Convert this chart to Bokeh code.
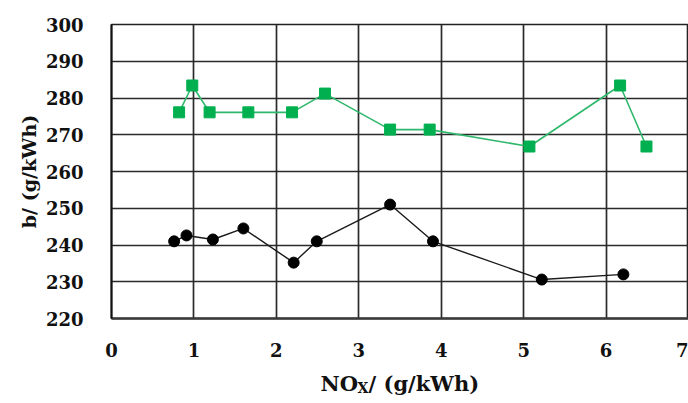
from bokeh.plotting import figure
from bokeh.layouts import column
from bokeh.models import Range1d, FixedTicker
from bokeh.core.properties import value
from bokeh.embed import file_html
from bokeh.resources import INLINE

# Series
green_x = [0.82, 0.98, 1.19, 1.66, 2.19, 2.59, 3.38, 3.86, 5.07, 6.17, 6.49]
green_y = [276.1, 283.4, 276.1, 276.1, 276.1, 281.2, 271.4, 271.4, 266.8, 283.4, 266.8]

black_x = [0.76, 0.91, 1.23, 1.60, 2.21, 2.49, 3.38, 3.90, 5.22, 6.21]
black_y = [241.0, 242.6, 241.5, 244.5, 235.2, 241.0, 251.0, 241.0, 230.6, 232.0]

x_ticks = [0, 1, 2, 3, 4, 5, 6, 7]
y_ticks = [220, 230, 240, 250, 260, 270, 280, 290, 300]

x_label_parts = ["NO", "X", "/ (g/kWh)"]

FONT = "DejaVu Serif"

p = figure(width=688, height=370, output_backend="svg", toolbar_location=None,
           x_range=Range1d(0, 7), y_range=Range1d(220, 300),
           min_border_left=111, min_border_right=0, min_border_top=24, min_border_bottom=52)
p.background_fill_color = "white"
p.border_fill_color = "white"
p.outline_line_color = "#222222"
p.outline_line_width = 1.6

p.xaxis.ticker = FixedTicker(ticks=x_ticks)
p.yaxis.ticker = FixedTicker(ticks=y_ticks)

for ax in (p.xaxis[0], p.yaxis[0]):
    ax.major_tick_line_color = None
    ax.minor_tick_line_color = None
    ax.major_label_text_font = FONT
    ax.major_label_text_font_style = "bold"
    ax.major_label_text_font_size = "18px"
    ax.major_label_text_color = "#111111"

p.xaxis.axis_line_color = "#3a3a3a"
p.xaxis.axis_line_width = 2.5
p.yaxis.axis_line_color = "#111111"
p.yaxis.axis_line_width = 2
p.xaxis.major_label_standoff = 18
p.yaxis.major_label_standoff = 22

p.yaxis.axis_label = "b/ (g/kWh)"
p.yaxis.axis_label_text_font = FONT
p.yaxis.axis_label_text_font_style = "bold"
p.yaxis.axis_label_text_font_size = "19px"
p.yaxis.axis_label_text_color = "#111111"
p.yaxis.axis_label_standoff = 3

for g in (p.xgrid[0], p.ygrid[0]):
    g.grid_line_color = "#2a2a2a"
    g.grid_line_width = 1.7
p.xgrid.ticker = FixedTicker(ticks=x_ticks)
p.ygrid.ticker = FixedTicker(ticks=y_ticks)

# Series
p.line(green_x, green_y, line_color="#2fb86c", line_width=1.6)
p.scatter(green_x, green_y, marker="square", size=11, fill_color="#00b050", line_color="#00b050")

p.line(black_x, black_y, line_color="#1a1a1a", line_width=1.4)
p.scatter(black_x, black_y, marker="circle", size=11, fill_color="black", line_color="black")

# X axis title strip (page-pixel coordinates; its frame aligns with the main frame)
t = figure(width=688, height=33, output_backend="svg", toolbar_location=None,
           x_range=Range1d(111, 688), y_range=Range1d(0, 33),
           x_axis_type=None, y_axis_type=None,
           min_border_left=0, min_border_right=0, min_border_top=0, min_border_bottom=0)
t.outline_line_color = None
t.background_fill_color = "white"
t.border_fill_color = "white"
t.xgrid.visible = False
t.ygrid.visible = False
kw = dict(text_font=value(FONT), text_font_style="bold", text_color="#111111",
          text_baseline="alphabetic", text_align="left")
t.text(x=[320], y=[20], text=[x_label_parts[0]], text_font_size="21px", **kw)
t.text(x=[357], y=[16], text=[x_label_parts[1]], text_font_size="14px", **kw)
t.text(x=[368], y=[20], text=[x_label_parts[2]], text_font_size="21px", **kw)

layout = column(p, t, spacing=0)
open("out.html", "w").write(file_html(layout, INLINE))
